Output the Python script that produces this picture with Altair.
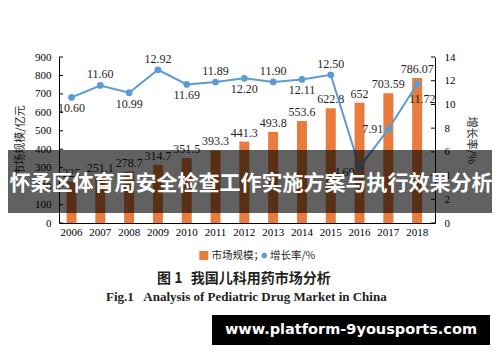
import altair as alt
import pandas as pd

years = [2006, 2007, 2008, 2009, 2010, 2011, 2012, 2013, 2014, 2015, 2016, 2017, 2018]
market = [225, 251.1, 278.7, 314.7, 351.5, 393.3, 441.3, 493.8, 553.6, 622.8, 652, 703.59, 786.07]
market_labels = ["225", "251.1", "278.7", "314.7", "351.5", "393.3", "441.3", "493.8",
                 "553.6", "622.8", "652", "703.59", "786.07"]
growth = [10.60, 11.60, 10.99, 12.92, 11.69, 11.89, 12.20, 11.90, 12.11, 12.50, 4.69, 7.91, 11.72]
growth_labels = ["10.60", "11.60", "10.99", "12.92", "11.69", "11.89", "12.20", "11.90",
                 "12.11", "12.50", "4.69", "7.91", "11.72"]
left_ticks = [0, 100, 200, 300, 400, 500, 600, 700, 800, 900]
right_ticks = [0, 2, 4, 6, 8, 10, 12, 14]

above_years = [2007, 2009, 2011, 2013, 2015]
below_years = [2006, 2008, 2010, 2012, 2014]
left_years = [2016]
leftmid_years = [2017]
belowright_years = [2018]

ORANGE = "#E97B3C"
BLUE = "#5B9BD5"
DARK = "#231F20"
SERIF = "Liberation Serif"
CJK = "Noto Sans CJK SC"

df = pd.DataFrame({"year": years, "market": market, "mlabel": market_labels,
                   "growth": growth, "glabel": growth_labels})
lt = pd.DataFrame({"market": left_ticks})
rt = pd.DataFrame({"growth": right_ticks})
one = pd.DataFrame({"a": [0]})

W, H = 376, 166

xenc = alt.X("year:O",
             scale=alt.Scale(paddingInner=0.653, paddingOuter=0.354, align=0.37),
             axis=alt.Axis(title=None, labelAngle=0, ticks=False, domainColor="black",
                           labelFont=SERIF, labelFontSize=11, labelColor="black",
                           labelPadding=3))

yl_scale = alt.Scale(domain=[0, 900], nice=False)
yr_scale = alt.Scale(domain=[0, 14], nice=False)

left_axis = alt.Axis(values=left_ticks, title="市场规模/亿元", ticks=False, grid=False,
                     domainColor="black", labelFont=SERIF, labelFontSize=11,
                     labelColor="black", labelPadding=8,
                     titleX=-39, titleY=83, titleAngle=-90, titleFont=CJK,
                     titleFontSize=11, titleFontWeight="normal", titleColor=DARK,
                     titleAlign="center", titleBaseline="middle")
right_axis = alt.Axis(orient="right", values=right_ticks, title="增长率/%", ticks=False,
                      grid=False, domainColor="black", labelFont=SERIF, labelFontSize=11,
                      labelColor="black", labelPadding=9,
                      titleX=35, titleY=83, titleAngle=90, titleFont=CJK,
                      titleFontSize=11, titleFontWeight="normal", titleColor=DARK,
                      titleAlign="center", titleBaseline="middle")

yl = alt.Y("market:Q", scale=yl_scale, axis=left_axis)
yr = alt.Y("growth:Q", scale=yr_scale, axis=right_axis)

bars = alt.Chart(df).mark_bar(color=ORANGE, size=10).encode(x=xenc, y=yl)

bar_text = alt.Chart(df).mark_text(font=SERIF, fontSize=12, color=DARK, baseline="middle",
                                   dy=-9).encode(x=xenc, y=yl, text="mlabel:N")

lticks = alt.Chart(lt).mark_rule(color="black", strokeWidth=1).encode(
    x=alt.value(0), x2=alt.value(4), y=yl)

left = alt.layer(bars, bar_text, lticks)

line = alt.Chart(df).mark_line(color=BLUE, strokeWidth=2).encode(x=xenc, y=yr)

pts = alt.Chart(df).mark_circle(color=BLUE, size=45, opacity=1).encode(x=xenc, y=yr)


def glab(yrs, **kw):
    return alt.Chart(df).transform_filter(
        alt.FieldOneOfPredicate(field="year", oneOf=yrs)
    ).mark_text(font=SERIF, fontSize=12, color=DARK, baseline="middle", **kw).encode(
        x=xenc, y=yr, text="glabel:N")


g_above = glab(above_years, dy=-11)
g_below = glab(below_years, dy=11)
g_left = glab(left_years, align="right", dx=-5, dy=5)
g_leftmid = glab(leftmid_years, align="right", dx=-5, dy=0)
g_br = glab(belowright_years, dx=5, dy=15)

rticks = alt.Chart(rt).mark_rule(color="black", strokeWidth=1).encode(
    x=alt.value(W - 4), x2=alt.value(W), y=yr)

right = alt.layer(line, pts, g_above, g_below, g_left, g_leftmid, g_br, rticks)

base = alt.Chart(one)
leg_sq = base.mark_rect(color=ORANGE).encode(
    x=alt.value(140.3), x2=alt.value(149.3), y=alt.value(194), y2=alt.value(203))
leg_t1 = base.mark_text(text="市场规模；", font=CJK, fontSize=10.5, color=DARK, align="left",
                        baseline="middle").encode(x=alt.value(152.5), y=alt.value(198.5))
leg_dot = base.mark_circle(color=BLUE, size=30, opacity=1).encode(
    x=alt.value(205.3), y=alt.value(198.5))
leg_t2 = base.mark_text(text="增长率/%", font=CJK, fontSize=10.5, color=DARK, align="left",
                        baseline="middle").encode(x=alt.value(211), y=alt.value(198.5))

cap1a = base.mark_text(text="图 1", font=CJK, fontSize=14, fontWeight="bold", color=DARK,
                       align="left", baseline="middle").encode(x=alt.value(98), y=alt.value(222))
cap1b = base.mark_text(text="我国儿科用药市场分析", font=CJK, fontSize=14, fontWeight="bold",
                       color=DARK, align="left", baseline="middle").encode(
    x=alt.value(131.7), y=alt.value(222))
cap2a = base.mark_text(text="Fig.1", font=SERIF, fontSize=13, fontWeight="bold", color=DARK,
                       align="left", baseline="middle").encode(x=alt.value(47), y=alt.value(240))
cap2b = base.mark_text(text="Analysis of Pediatric Drug Market in China", font=SERIF,
                       fontSize=13, fontWeight="bold", color=DARK, align="left",
                       baseline="middle").encode(x=alt.value(84.3), y=alt.value(240))

banner = base.mark_rect(color="black", opacity=0.62).encode(
    x=alt.value(-51), x2=alt.value(433), y=alt.value(93), y2=alt.value(156))
banner_t = base.mark_text(text="怀柔区体育局安全检查工作实施方案与执行效果分析", font=CJK,
                          fontSize=21, fontWeight="bold", color="white", align="center",
                          baseline="middle").encode(x=alt.value(192), y=alt.value(127))

wm = base.mark_rect(color="black").encode(
    x=alt.value(153), x2=alt.value(431), y=alt.value(258), y2=alt.value(288))
wm_t = base.mark_text(text="www.platform-9yousports.com", font="DejaVu Sans", fontSize=14.5,
                      fontWeight="bold", color="white", align="center",
                      baseline="middle").encode(x=alt.value(292), y=alt.value(273))

deco = alt.layer(leg_sq, leg_t1, leg_dot, leg_t2, cap1a, cap1b, cap2a, cap2b,
                 banner, banner_t, wm, wm_t)

chart = alt.layer(left, right, deco).resolve_scale(y="independent").properties(
    width=W, height=H,
    autosize=alt.AutoSizeParams(type="none"),
    padding={"left": 51, "top": 49, "right": 57, "bottom": 131},
    background="white",
).configure_view(stroke=None)

chart.save("out.html", embed_options={"renderer": "svg", "actions": False})
